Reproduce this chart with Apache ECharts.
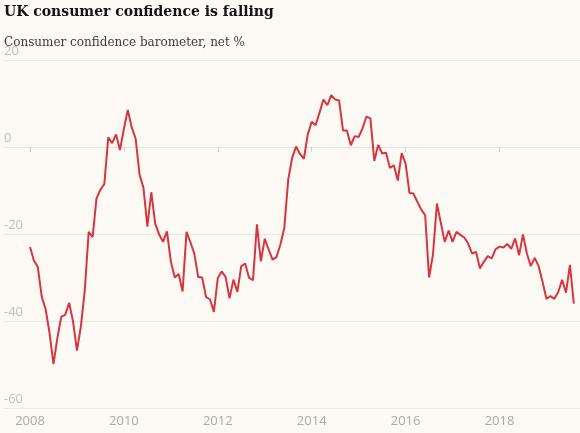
<!DOCTYPE html>
<html><head><meta charset="utf-8">
<script src="https://cdn.jsdelivr.net/npm/echarts@6/dist/echarts.min.js"></script>
<style>html,body{margin:0;padding:0;background:#fdf9f5;} #c{width:580px;height:433px;}</style>
</head><body><div id="c"></div>
<script>
const titleText = 'UK consumer confidence is falling';
const subtitleText = 'Consumer confidence barometer, net %';
const startYear = 2008;
const startMonth = 1;
const values = [
  -23.0,-26.1,-27.6,-34.4,-37.3,-42.8,-49.9,-43.9,-39.0,-38.6,-35.8,-40.1,
  -46.8,-41.3,-33.0,-19.5,-20.7,-11.8,-9.8,-8.5,2.2,0.9,2.9,-0.7,
  4.2,8.5,4.5,1.9,-6.3,-9.4,-18.3,-10.4,-17.6,-20.1,-21.8,-19.4,
  -26.3,-30.0,-29.2,-33.2,-19.5,-21.9,-24.5,-29.9,-30.0,-34.5,-35.0,-37.9,
  -30.1,-28.6,-29.9,-34.8,-30.5,-33.3,-27.4,-26.8,-30.1,-30.6,-17.8,-26.3,
  -21.1,-23.6,-25.9,-25.3,-22.4,-18.6,-7.5,-2.5,0.1,-1.6,-2.7,2.9,
  5.8,5.0,7.9,10.9,9.6,11.9,10.9,10.7,3.8,3.8,0.4,2.5,
  2.3,4.3,7.0,6.6,-3.2,0.5,-1.5,-1.3,-4.8,-4.2,-7.7,-1.4,
  -3.8,-10.6,-10.7,-12.6,-14.4,-15.7,-30.0,-24.7,-13.0,-17.4,-21.8,-19.2,
  -21.8,-19.5,-20.2,-20.8,-22.2,-24.5,-24.1,-27.9,-26.4,-25.1,-25.6,-23.5,
  -22.9,-23.1,-22.3,-23.4,-21.0,-24.9,-20.1,-24.5,-27.4,-25.5,-27.4,-31.0,
  -34.9,-34.3,-34.9,-33.4,-30.5,-33.5,-27.1,-36.0
];
const yearTicks = [2008, 2010, 2012, 2014, 2016, 2018];

const data = values.map((v, i) => [startYear + (startMonth - 1 + i) / 12, v]);
const chart = echarts.init(document.getElementById('c'), null, {renderer: 'canvas'});
chart.setOption({
  backgroundColor: '#fdf9f5',
  animation: false,
  title: [
    {text: titleText, left: 4, top: 5, padding: 0,
     textStyle: {fontFamily: 'DejaVu Serif', fontWeight: 'bold', fontSize: 14, color: '#121212'}},
    {text: subtitleText, left: 4, top: 37, padding: 0,
     textStyle: {fontFamily: 'DejaVu Serif', fontWeight: 'normal', fontSize: 12, color: '#3d3d3d'}}
  ],
  grid: {left: 4, right: 0, top: 60, bottom: 25},
  xAxis: {
    type: 'value',
    min: 2008 - 26 / 46.95,
    max: 2008 + 550 / 46.95,
    axisLine: {show: true, lineStyle: {color: '#e8e4e0', width: 1}},
    axisTick: {show: true, customValues: yearTicks, length: 5, lineStyle: {color: '#d2cdc8'}},
    axisLabel: {customValues: yearTicks, color: '#aeaaa6', fontSize: 13, margin: 7,
      fontFamily: 'Open Sans', formatter: v => String(Math.round(v))},
    splitLine: {show: false}
  },
  yAxis: {
    type: 'value', min: -60, max: 20, interval: 20,
    axisLine: {show: false}, axisTick: {show: false},
    axisLabel: {inside: true, margin: 0, verticalAlign: 'bottom', color: '#c2beba',
      fontSize: 13, fontFamily: 'Open Sans', padding: [0, 0, 2, 0]},
    splitLine: {lineStyle: {color: '#ebe7e3', width: 1}}
  },
  series: [{
    type: 'line', data: data, showSymbol: false, symbol: 'none',
    lineStyle: {color: '#d7353f', width: 2}, z: 5
  }]
});
</script>
</body></html>
